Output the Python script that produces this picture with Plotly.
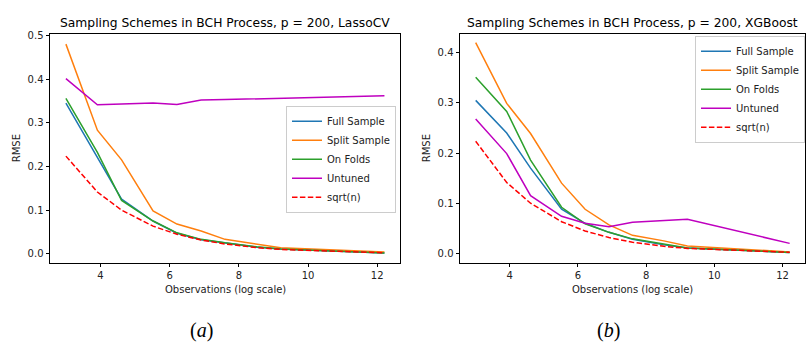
import plotly.graph_objects as go

W, H = 806, 343

# log(n) observations
x_obs = [3.00, 3.91, 4.61, 5.52, 6.21, 6.91, 7.60, 8.52, 9.21, 12.21]

# Panel (a): LassoCV
a_full = [0.345, 0.222, 0.125, 0.075, 0.047, 0.032, 0.024, 0.015, 0.011, 0.002]
a_split = [0.480, 0.283, 0.215, 0.098, 0.068, 0.052, 0.033, 0.022, 0.014, 0.004]
a_folds = [0.356, 0.232, 0.122, 0.075, 0.048, 0.033, 0.025, 0.016, 0.011, 0.002]
a_untuned = [0.401, 0.341, 0.343, 0.345, 0.342, 0.352, 0.353, 0.355, 0.356, 0.362]
a_sqrt = [0.2236, 0.1414, 0.1000, 0.0632, 0.0447, 0.0316, 0.0224, 0.0141, 0.0100, 0.0022]

# Panel (b): XGBoost
b_full = [0.305, 0.240, 0.170, 0.088, 0.060, 0.042, 0.028, 0.017, 0.011, 0.002]
b_split = [0.420, 0.299, 0.239, 0.140, 0.088, 0.057, 0.036, 0.025, 0.015, 0.003]
b_folds = [0.351, 0.283, 0.186, 0.092, 0.059, 0.042, 0.029, 0.018, 0.011, 0.002]
b_untuned = [0.268, 0.199, 0.115, 0.074, 0.060, 0.053, 0.062, 0.066, 0.068, 0.020]
b_sqrt = [0.2236, 0.1414, 0.1000, 0.0632, 0.0447, 0.0316, 0.0224, 0.0141, 0.0100, 0.0022]

names = ["Full Sample", "Split Sample", "On Folds", "Untuned", "sqrt(n)"]
colors = ["#1f77b4", "#ff7f0e", "#2ca02c", "#bf00bf", "#ff0000"]
titles = ["Sampling Schemes in BCH Process, p = 200, LassoCV",
          "Sampling Schemes in BCH Process, p = 200, XGBoost"]
panel_labels = ["(<i>a</i>)", "(<i>b</i>)"]
x_title = "Observations (log scale)"
y_title = "RMSE"

fig = go.Figure()
panels = [
    ([a_full, a_split, a_folds, a_untuned, a_sqrt], "x", "y", "legend"),
    ([b_full, b_split, b_folds, b_untuned, b_sqrt], "x2", "y2", "legend2"),
]
for series, xa, ya, lg in panels:
    for name, col, vals in zip(names, colors, series):
        dash = "5.5px,2.4px" if name == "sqrt(n)" else "solid"
        fig.add_trace(go.Scatter(x=x_obs, y=vals, mode="lines", name=name,
                                 line=dict(color=col, width=1.5, dash=dash),
                                 xaxis=xa, yaxis=ya, legend=lg))

def px_x(p):
    return p / W

def px_y(p):
    return 1 - p / H

font = "DejaVu Sans, Verdana, sans-serif"
axis_common = dict(showline=True, mirror=True, linecolor="#000", linewidth=1,
                   ticks="outside", ticklen=3.5, tickwidth=0.8, tickcolor="#000",
                   showgrid=False, zeroline=False,
                   tickfont=dict(family=font, size=10, color="#222"))

domains = [(50, 400), (460, 805)]
yranges = [[-0.021, 0.504], [-0.019, 0.438]]
ydtick = [0.1, 0.1]

layout = dict(
    width=W, height=H, margin=dict(l=0, r=0, t=0, b=0),
    paper_bgcolor="white", plot_bgcolor="white",
    font=dict(family=font, size=10, color="#222"),
    showlegend=True,
)
for i, (d, yr) in enumerate(zip(domains, yranges)):
    sfx = "" if i == 0 else "2"
    layout["xaxis" + sfx] = dict(domain=[px_x(d[0]), px_x(d[1])], range=[2.54, 12.66],
                                 tickvals=[4, 6, 8, 10, 12], anchor="y" + sfx, **axis_common)
    layout["yaxis" + sfx] = dict(domain=[px_y(262), px_y(30)], range=yr, dtick=ydtick[i],
                                 tickformat=".1f", anchor="x" + sfx, **axis_common)

legend_common = dict(bgcolor="rgba(255,255,255,0.8)", bordercolor="#ccc", borderwidth=1,
                     font=dict(family=font, size=10, color="#222"),
                     xanchor="right", yanchor="top", itemwidth=30, tracegroupgap=0)
layout["legend"] = dict(x=px_x(396), y=px_y(103), **legend_common)
layout["legend2"] = dict(x=px_x(805), y=px_y(32), **legend_common)

annotations = []
for i, d in enumerate(domains):
    cx = px_x((d[0] + d[1]) / 2)
    annotations.append(dict(text=titles[i], x=cx, y=px_y(19), xref="paper", yref="paper",
                            showarrow=False, xanchor="center", yanchor="middle",
                            font=dict(family=font, size=12.3, color="#000")))
    annotations.append(dict(text=x_title, x=cx, y=px_y(289), xref="paper", yref="paper",
                            showarrow=False, xanchor="center", yanchor="middle",
                            font=dict(family=font, size=10, color="#222")))
    annotations.append(dict(text=y_title, x=px_x(d[0] - 34), y=px_y(146), xref="paper",
                            yref="paper", showarrow=False, textangle=-90,
                            xanchor="center", yanchor="middle",
                            font=dict(family=font, size=10, color="#222")))
    annotations.append(dict(text=panel_labels[i], x=px_x((d[0] + d[1]) / 2 - 24), y=px_y(330),
                            xref="paper", yref="paper", showarrow=False,
                            xanchor="center", yanchor="middle",
                            font=dict(family="Liberation Serif, serif", size=20, color="#000")))
layout["annotations"] = annotations

fig.update_layout(**layout)
fig.write_html("out.html")
